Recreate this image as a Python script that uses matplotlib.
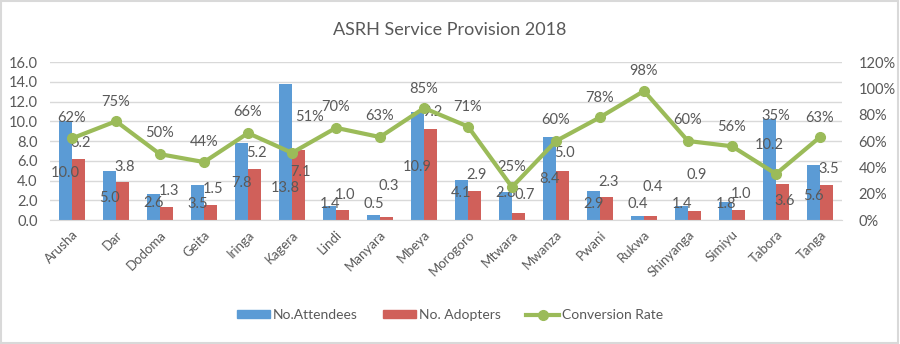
import matplotlib
matplotlib.use("Agg")
import matplotlib.pyplot as plt
import numpy as np
from matplotlib.patches import Rectangle
from matplotlib.ticker import FuncFormatter, MultipleLocator
from matplotlib.lines import Line2D
from matplotlib.patches import Patch

plt.rcParams['font.family'] = ['Lato', 'DejaVu Sans']

regions = ["Arusha", "Dar", "Dodoma", "Geita", "Iringa", "Kagera", "Lindi", "Manyara",
           "Mbeya", "Morogoro", "Mtwara", "Mwanza", "Pwani", "Rukwa", "Shinyanga",
           "Simiyu", "Tabora", "Tanga"]
attendees = [10.0, 5.0, 2.6, 3.5, 7.8, 13.8, 1.4, 0.5, 10.9, 4.1, 2.8, 8.4, 2.9, 0.4, 1.4, 1.8, 10.2, 5.6]
adopters = [6.2, 3.8, 1.3, 1.5, 5.2, 7.1, 1.0, 0.3, 9.2, 2.9, 0.7, 5.0, 2.3, 0.4, 0.9, 1.0, 3.6, 3.5]
conversion = [62, 75, 50, 44, 66, 51, 70, 63, 85, 71, 25, 60, 78, 98, 60, 56, 35, 63]

# label placement (left-axis units), as placed in the source chart
att_label_y = [4.8, 2.2, 1.7, 1.6, 3.7, 3.2, 1.6, 1.6, 5.4, 2.7, 2.7, 4.2, 1.6, 1.6, 1.6, 1.6, 7.6, 2.4]
adp_label_y = [7.8, 5.4, 2.9, 3.1, 6.8, 4.9, 2.5, 3.4, 10.9, 4.55, 2.5, 6.8, 3.85, 3.35, 4.55, 2.6, 1.9, 5.2]
rate_label_y = [10.3, 11.95, 8.8, 7.9, 10.9, 10.4, 11.4, 10.5, 13.3, 11.4, 5.4, 10.1, 12.35, 15.1, 10.1, 9.4, 10.5, 10.3]

BLUE = "#5B9BD5"
RED = "#D0605A"
GREEN = "#9BBB59"
TXT = "#595959"
GRID = "#D9D9D9"

fig = plt.figure(figsize=(9.0, 3.44), dpi=100)
fig.patches.append(Rectangle((0.001, 0.002), 0.997, 0.995, transform=fig.transFigure,
                             fill=False, edgecolor="#D9D9D9", linewidth=1.5))
ax = fig.add_axes([50/900, 1-220/344, 792/900, 158/344])
ax2 = ax.twinx()

x = np.arange(len(regions))
w = 0.295
ax.bar(x - w/2, attendees, w, color=BLUE, zorder=2)
ax.bar(x + w/2, adopters, w, color=RED, zorder=2)

ax.set_xlim(-0.5, len(regions) - 0.5)
ax.set_ylim(0, 16)
ax.yaxis.set_major_locator(MultipleLocator(2))
ax.yaxis.set_major_formatter(FuncFormatter(lambda v, p: f"{v:.1f}"))
ax.grid(axis='y', color=GRID, linewidth=1, zorder=0)
ax.set_axisbelow(True)
for s in ['top', 'left', 'right']:
    ax.spines[s].set_visible(False)
ax.spines['bottom'].set_color(GRID)
ax.tick_params(axis='y', length=0, colors=TXT, labelsize=10.5, pad=9)
ax.tick_params(axis='x', length=0, colors=TXT, pad=6)
ax.set_xticks(x)
ax.set_xticklabels(regions, rotation=45, ha='right', rotation_mode='anchor', color=TXT, fontsize=9.5)

ax2.set_ylim(0, 120)
ax2.yaxis.set_major_locator(MultipleLocator(20))
ax2.yaxis.set_major_formatter(FuncFormatter(lambda v, p: f"{v:.0f}%"))
for s in ['top', 'left', 'right', 'bottom']:
    ax2.spines[s].set_visible(False)
ax2.tick_params(axis='y', length=0, colors=TXT, labelsize=10.5, pad=12)
ax2.plot(x, conversion, color=GREEN, linewidth=3, marker='o', markersize=7, zorder=3)

for i in range(len(regions)):
    ax.text(x[i] - w/2, att_label_y[i], f"{attendees[i]:.1f}", ha='center', va='center',
            color=TXT, fontsize=10.5, zorder=5)
    dxr = 0.15 if regions[i] == "Mtwara" else 0.05
    ax.text(x[i] + w/2 + dxr, adp_label_y[i], f"{adopters[i]:.1f}", ha='center', va='center',
            color=TXT, fontsize=10.5, zorder=5)
    dx = 0.4 if regions[i] == "Kagera" else 0.0
    ax.text(x[i] + dx, rate_label_y[i], f"{conversion[i]}%", ha='center', va='center',
            color=TXT, fontsize=10.5, zorder=5)

fig.text(0.5, 1 - 30/344, "ASRH Service Provision 2018", ha='center', va='center',
         color=TXT, fontsize=13)

handles = [Patch(color=BLUE), Patch(color=RED),
           Line2D([0], [0], color=GREEN, linewidth=3, marker='o', markersize=7)]
fig.legend(handles, ["No.Attendees", "No. Adopters", "Conversion Rate"], loc='center',
           bbox_to_anchor=(0.5, 1 - 315/344), ncol=3, frameon=False, fontsize=10,
           labelcolor=TXT, handlelength=2.4, handleheight=0.45, columnspacing=1.8, handletextpad=0.2)

fig.savefig("out.png", dpi=100)
